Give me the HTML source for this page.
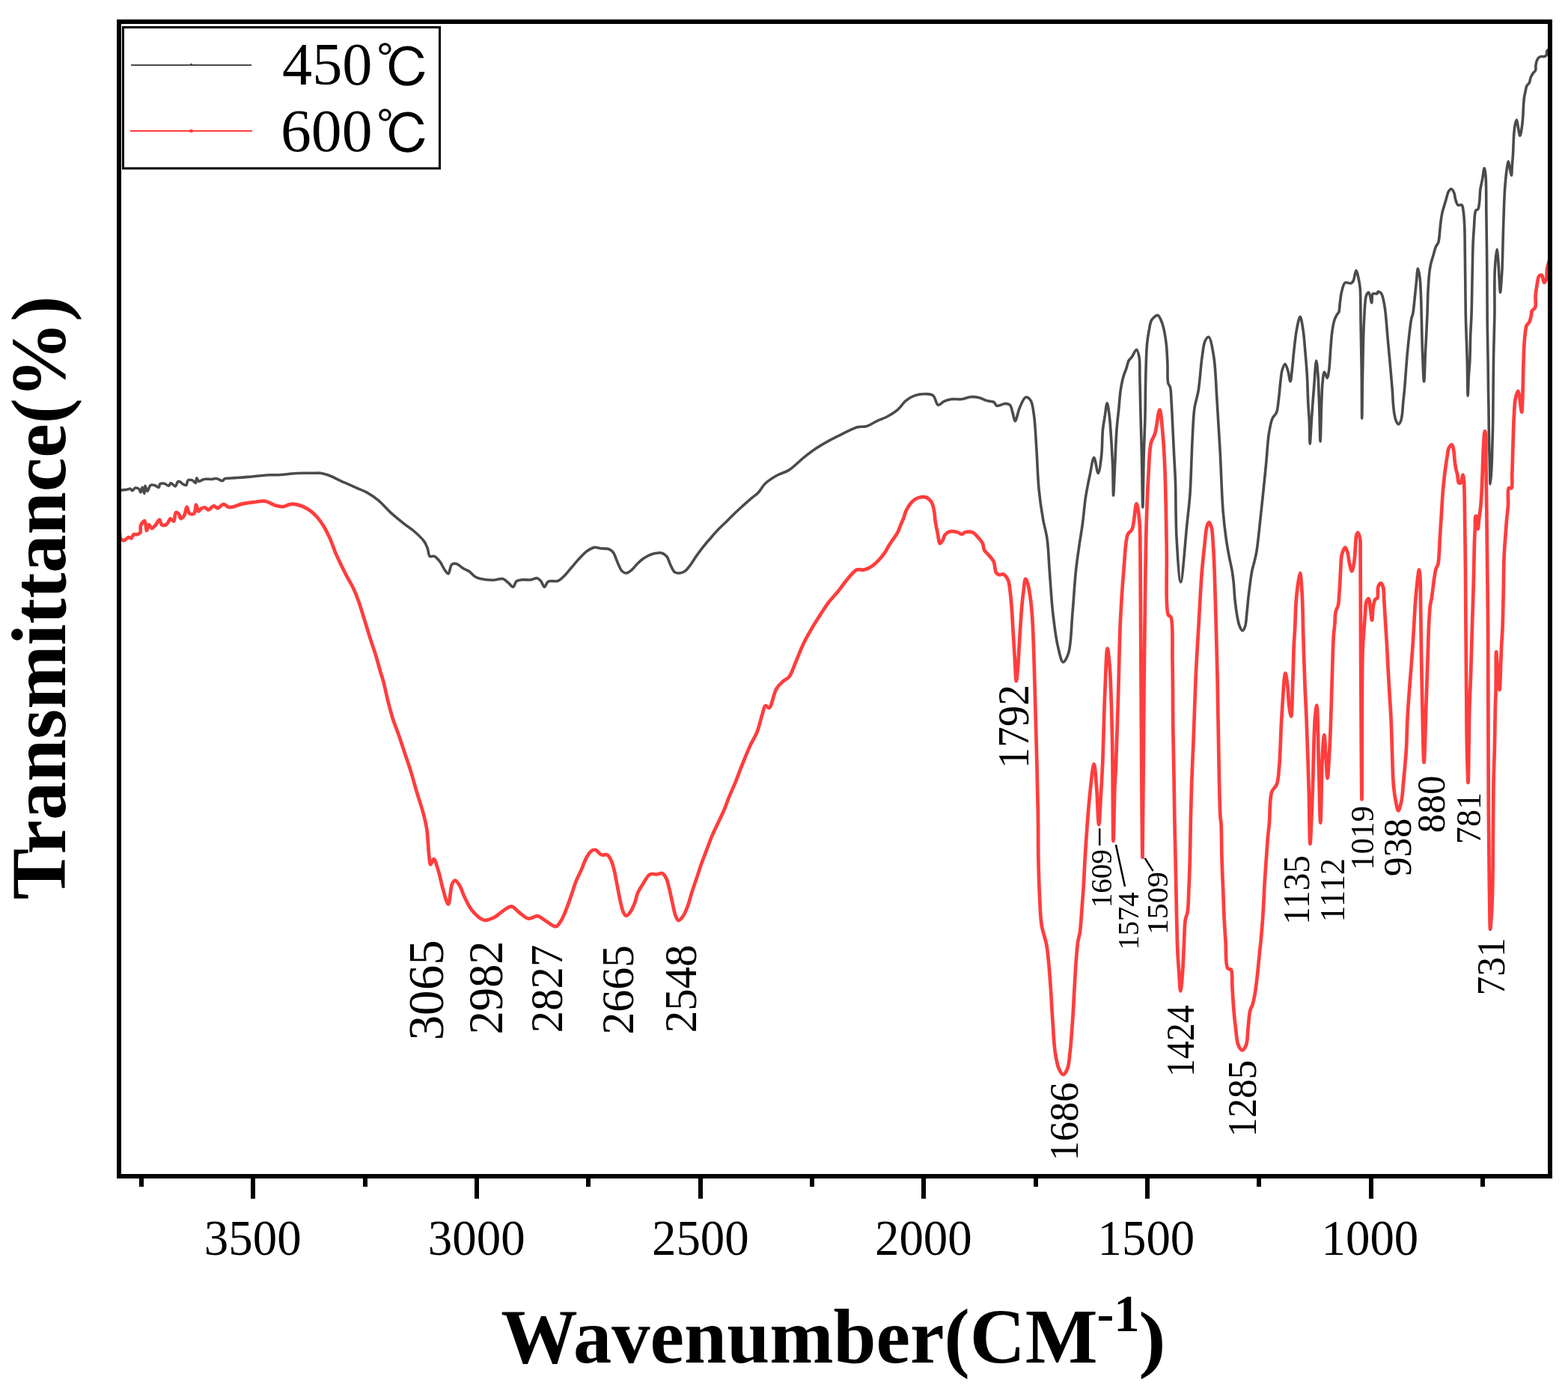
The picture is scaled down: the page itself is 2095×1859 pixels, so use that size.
<!DOCTYPE html>
<html><head><meta charset="utf-8"><title>FTIR spectra 450℃ / 600℃</title>
<style>html,body{margin:0;padding:0;background:#fff;} svg{display:block;}</style></head>
<body><svg width="2095" height="1859" viewBox="0 0 2095 1859">
<rect x="0" y="0" width="2095" height="1859" fill="#ffffff"/>
<path fill="none" stroke="#4b4b4b" stroke-width="3.6" stroke-linejoin="round" stroke-linecap="round" d="M160.0,662.0C160.2,660.0 159.8,657.1 160.5,656.0C160.9,655.4 161.5,655.3 162.3,655.1C163.9,654.6 167.6,654.7 169.7,654.3C171.4,654.0 172.9,652.9 174.1,653.2C175.3,653.5 176.0,655.8 177.0,655.8C178.2,655.8 179.2,652.5 180.7,652.1C182.2,651.7 184.6,652.6 185.8,653.6C187.0,654.6 187.3,658.0 188.0,658.0C188.8,657.9 189.4,651.4 190.2,651.4C191.0,651.4 192.2,659.6 192.8,659.5C193.5,659.4 193.1,649.3 193.9,649.2C194.6,649.1 195.6,656.4 196.8,656.5C198.0,656.6 199.3,649.6 201.2,648.5C202.7,647.6 204.7,648.1 206.4,648.5C208.3,649.0 211.0,651.9 212.2,651.4C213.2,651.0 212.6,647.9 213.7,647.0C214.9,646.0 217.7,646.0 219.6,646.3C221.6,646.6 223.9,649.5 225.4,649.2C226.7,648.9 227.1,645.7 228.4,645.5C229.9,645.3 232.6,650.2 234.2,649.9C235.8,649.6 236.5,643.9 237.9,643.3C238.8,642.9 239.8,643.6 240.8,644.1C242.0,644.7 243.1,646.3 244.5,647.0C245.8,647.7 247.8,649.0 248.9,648.5C250.2,647.8 249.6,643.0 251.1,641.9C252.4,640.9 255.3,641.3 257.0,641.9C258.7,642.5 260.4,645.8 261.4,645.5C262.5,645.1 262.0,639.1 262.8,638.9C263.5,638.8 264.4,642.9 265.8,643.3C267.4,643.8 269.9,640.9 272.4,640.4C275.5,639.7 280.9,640.7 283.4,640.4C284.7,640.2 285.3,639.8 286.3,639.7C287.5,639.6 288.6,639.4 290.0,639.7C292.1,640.1 295.5,643.0 297.3,642.6C298.6,642.3 299.1,640.3 300.3,639.7C301.6,639.1 303.1,639.4 305.0,639.3C308.0,639.1 312.4,638.8 316.5,638.5C321.1,638.2 326.2,637.8 331.1,637.4C336.0,637.0 340.9,636.4 345.8,636.0C350.7,635.6 355.6,635.0 360.5,634.8C365.4,634.6 370.3,634.8 375.2,634.5C380.1,634.2 384.9,633.4 389.8,633.0C394.7,632.6 399.6,632.4 404.5,632.3C409.4,632.2 414.9,632.3 419.2,632.3C422.5,632.3 424.8,631.9 428.0,632.3C432.0,632.8 436.8,634.4 441.2,636.0C445.8,637.7 451.0,640.8 455.0,642.6C458.1,644.0 460.2,644.9 463.2,646.2C466.9,647.8 471.2,649.8 475.5,651.7C480.4,653.9 486.0,655.8 491.0,658.6C496.3,661.6 501.4,665.2 506.4,669.4C511.7,673.9 516.3,679.8 521.8,684.8C527.6,690.1 534.8,695.9 540.4,700.3C544.9,703.8 548.6,706.0 552.7,709.5C557.3,713.5 563.4,719.0 566.6,723.4C568.9,726.6 569.9,729.4 571.2,732.7C572.5,736.1 572.3,742.0 574.3,743.5C575.8,744.6 578.5,742.7 580.5,743.5C583.2,744.6 585.9,748.2 588.2,751.2C590.6,754.4 592.3,759.2 594.4,762.0C595.9,764.0 597.6,767.0 599.0,766.7C600.9,766.3 601.3,756.2 603.7,754.3C605.3,753.0 607.7,753.0 609.8,753.5C612.7,754.2 616.1,757.9 619.1,759.7C621.7,761.2 624.3,761.9 626.8,763.6C629.5,765.4 631.8,768.8 634.5,770.5C637.0,772.0 639.1,772.8 642.3,773.6C646.8,774.7 654.0,775.3 659.2,775.2C663.7,775.1 668.1,772.7 671.6,773.6C674.6,774.3 676.9,777.1 679.3,779.0C681.5,780.7 683.7,784.7 685.5,784.4C687.4,784.1 688.0,778.3 690.1,776.7C692.0,775.3 694.6,775.2 697.3,774.9C700.7,774.5 705.5,775.3 709.1,774.9C712.3,774.5 715.5,772.1 717.9,772.7C720.0,773.2 721.5,775.3 723.0,777.1C724.7,779.1 725.8,784.3 727.4,784.4C729.0,784.5 730.0,778.5 732.6,777.1C735.7,775.4 742.2,777.7 745.8,776.3C748.8,775.1 750.6,772.9 753.1,770.5C756.4,767.4 760.1,762.5 763.4,758.7C766.5,755.2 769.0,751.9 772.2,748.4C775.8,744.6 779.9,739.6 783.9,736.7C787.3,734.3 790.8,732.1 794.2,731.6C797.2,731.1 799.9,732.6 803.0,733.0C806.3,733.4 810.5,732.7 813.3,733.8C815.7,734.7 817.5,736.0 819.2,738.2C821.6,741.2 823.0,747.2 825.0,751.4C826.9,755.4 828.5,760.7 830.9,763.1C832.6,764.8 834.8,766.1 836.8,766.0C839.1,765.9 841.8,763.5 844.1,761.6C846.7,759.5 849.0,756.1 851.5,753.6C853.9,751.2 856.3,748.9 858.8,747.0C861.2,745.3 863.5,743.8 866.1,742.6C868.8,741.3 871.9,740.2 874.9,739.6C877.8,739.0 881.0,738.2 883.7,738.9C886.4,739.6 889.2,741.7 891.1,744.0C893.2,746.6 893.8,750.9 895.5,754.3C897.2,757.8 899.0,762.8 901.4,764.6C903.1,765.9 905.2,766.1 907.2,766.0C909.5,765.9 912.3,765.2 914.6,763.8C917.3,762.1 919.5,758.9 921.9,755.8C924.8,752.0 927.7,746.8 930.7,742.6C933.6,738.5 936.5,734.6 939.5,730.8C942.4,727.2 945.2,724.0 948.3,720.5C951.6,716.7 954.9,712.7 958.6,708.8C962.6,704.5 967.5,700.1 971.7,695.9C975.7,691.9 979.0,688.4 983.5,684.2C989.2,678.9 997.7,671.3 1003.1,666.6C1006.9,663.4 1009.7,661.9 1012.8,658.7C1016.3,655.1 1018.6,649.8 1022.6,646.0C1027.0,641.9 1032.9,638.2 1038.3,635.2C1043.4,632.4 1048.6,631.7 1053.9,628.4C1060.4,624.4 1067.3,616.8 1073.5,611.8C1079.0,607.4 1083.6,603.8 1089.2,600.0C1095.2,595.9 1102.3,591.8 1108.7,588.3C1114.7,585.0 1120.2,582.4 1126.3,579.5C1132.6,576.5 1140.1,572.2 1145.9,570.7C1150.2,569.6 1153.6,570.8 1157.6,569.7C1162.1,568.4 1166.8,564.9 1171.4,562.8C1175.9,560.7 1180.6,559.4 1185.0,557.0C1189.7,554.5 1194.5,551.7 1198.7,548.2C1203.0,544.6 1206.3,538.8 1210.5,535.4C1214.2,532.4 1217.8,530.1 1222.2,528.6C1226.9,527.0 1233.4,526.4 1237.9,526.6C1241.3,526.8 1244.3,526.7 1246.7,528.6C1249.8,530.9 1250.7,540.5 1253.5,541.3C1255.8,541.9 1258.5,537.7 1261.4,536.4C1264.4,535.1 1267.6,534.0 1271.2,533.5C1275.3,532.9 1280.5,534.0 1284.9,533.5C1289.0,533.0 1292.7,530.8 1296.6,530.5C1300.5,530.2 1304.6,530.6 1308.3,531.5C1311.8,532.3 1314.8,534.4 1318.1,535.4C1321.3,536.4 1325.5,536.0 1327.9,537.4C1329.8,538.5 1329.9,541.6 1331.8,542.3C1334.5,543.2 1340.4,539.3 1343.6,539.4C1345.9,539.5 1347.9,539.8 1349.4,541.3C1351.6,543.5 1352.2,549.3 1353.4,553.1C1354.5,556.5 1355.1,562.8 1356.3,562.8C1358.0,562.8 1360.1,549.7 1362.7,544.1C1364.9,539.2 1367.5,531.6 1370.4,530.9C1372.5,530.4 1375.4,532.8 1377.1,535.3C1379.8,539.3 1380.3,547.1 1381.5,555.1C1383.2,566.8 1383.8,583.7 1384.8,599.2C1386.0,616.5 1386.4,637.5 1388.1,654.3C1389.5,668.6 1391.5,682.1 1393.6,694.0C1395.3,703.7 1397.7,710.4 1399.1,720.4C1400.9,733.2 1401.2,749.0 1402.4,764.5C1403.7,781.8 1404.8,802.3 1406.8,819.6C1408.6,835.2 1410.5,851.7 1413.4,863.7C1415.4,872.2 1417.8,884.7 1420.5,885.0C1422.6,885.2 1425.7,878.6 1427.6,872.8C1431.3,861.3 1431.4,836.1 1433.1,817.7C1434.7,799.3 1435.8,778.6 1437.5,762.6C1438.8,750.1 1440.4,740.1 1441.9,729.5C1443.3,719.6 1444.9,711.0 1446.3,700.8C1447.9,689.1 1448.9,674.9 1450.7,663.3C1452.3,653.1 1454.3,643.7 1456.2,634.7C1458.0,626.5 1459.8,611.5 1461.7,611.5C1463.5,611.5 1465.7,632.6 1467.3,632.5C1469.0,632.4 1470.7,617.0 1471.7,608.2C1472.9,597.8 1472.5,583.5 1473.5,574.0C1474.2,567.1 1475.2,562.2 1476.2,556.3C1477.1,550.4 1478.2,538.7 1479.2,538.7C1480.2,538.7 1481.4,549.4 1482.3,556.3C1483.5,566.0 1484.2,579.8 1485.0,591.6C1485.7,603.4 1486.4,615.1 1486.8,626.9C1487.2,638.6 1487.2,662.1 1487.6,662.1C1488.0,662.1 1488.8,639.8 1489.4,626.9C1490.2,611.1 1490.9,588.6 1492.0,574.0C1492.8,563.6 1493.8,556.3 1494.7,547.5C1495.6,538.7 1496.1,529.0 1497.3,521.1C1498.3,514.6 1499.4,508.7 1500.9,503.4C1502.2,498.9 1504.1,494.9 1505.3,491.1C1506.3,487.9 1506.6,484.8 1507.9,482.3C1509.0,480.2 1510.8,479.1 1512.3,477.0C1514.3,474.3 1516.9,467.1 1518.5,467.3C1520.1,467.5 1521.2,472.9 1522.0,477.0C1523.3,483.6 1522.6,493.5 1522.9,503.4C1523.2,516.2 1523.4,531.6 1523.8,547.5C1524.3,566.3 1525.0,588.1 1525.5,609.2C1526.0,631.5 1526.4,678.0 1526.8,678.0C1527.3,678.0 1527.6,630.6 1528.2,609.2C1528.7,590.4 1529.6,573.9 1530.0,556.3C1530.4,538.7 1530.3,520.2 1530.8,503.4C1531.2,488.1 1531.5,470.8 1532.6,459.4C1533.3,452.2 1534.1,447.2 1535.2,441.7C1536.2,436.7 1536.5,431.1 1538.8,427.6C1540.7,424.7 1544.6,421.1 1546.7,421.4C1548.6,421.7 1549.9,425.1 1551.1,427.6C1552.6,430.6 1553.6,434.0 1554.6,438.2C1556.0,444.0 1557.3,451.9 1558.2,459.4C1559.2,467.7 1559.5,477.0 1559.9,485.8C1560.3,494.6 1559.4,507.0 1560.8,512.3C1561.5,514.8 1562.8,515.1 1563.5,517.5C1564.8,522.1 1564.7,530.7 1565.2,538.7C1565.9,549.0 1566.4,562.2 1567.0,574.0C1567.6,585.7 1568.1,597.5 1568.7,609.2C1569.3,621.0 1570.0,630.6 1570.5,644.5C1571.2,664.6 1570.7,695.2 1572.0,718.5C1573.2,739.4 1575.4,778.0 1577.5,778.0C1579.9,778.0 1583.7,721.7 1586.0,700.0C1587.6,684.5 1588.9,675.2 1590.0,660.0C1591.4,639.9 1591.9,610.8 1593.0,590.0C1593.9,573.3 1594.2,557.3 1596.0,545.0C1597.3,536.3 1599.5,531.7 1601.0,523.0C1603.1,510.7 1604.2,490.3 1606.0,478.0C1607.3,469.3 1607.8,460.8 1610.0,456.0C1611.3,453.2 1613.3,450.0 1614.8,450.3C1617.6,450.9 1620.0,466.0 1621.7,476.4C1624.2,491.3 1624.5,512.2 1625.8,531.6C1627.3,553.3 1628.7,576.4 1630.0,600.4C1631.5,626.7 1632.3,661.0 1634.1,683.1C1635.3,697.9 1636.6,708.6 1638.2,720.0C1639.6,729.9 1641.5,740.0 1643.0,747.7C1644.1,753.2 1645.1,756.8 1646.0,761.8C1646.9,767.3 1647.7,773.2 1648.3,779.4C1649.0,786.3 1649.2,794.3 1650.0,801.5C1650.7,808.4 1651.6,815.6 1652.7,821.8C1653.7,827.2 1654.6,833.0 1656.2,836.8C1657.3,839.4 1658.9,843.0 1660.2,843.0C1661.4,843.0 1662.8,839.5 1663.7,836.8C1665.1,832.5 1665.2,825.4 1665.9,819.2C1666.7,812.3 1667.3,804.1 1668.1,797.1C1668.8,790.9 1669.5,785.3 1670.3,779.4C1671.1,773.5 1671.9,767.2 1673.0,761.8C1674.0,757.0 1675.5,752.9 1676.5,748.5C1677.5,744.1 1678.3,741.2 1679.2,735.3C1681.0,723.7 1683.1,701.3 1685.1,683.1C1687.3,663.1 1689.8,638.8 1691.6,620.0C1693.1,604.9 1693.6,590.4 1695.4,579.2C1696.7,571.3 1697.9,564.1 1700.1,559.1C1701.6,555.7 1704.2,554.7 1705.5,551.4C1707.4,546.7 1707.6,539.4 1708.5,532.9C1709.5,525.6 1710.0,516.7 1710.9,509.8C1711.6,504.1 1711.9,498.5 1713.2,494.3C1714.2,491.2 1715.8,486.6 1717.0,486.6C1718.3,486.6 1719.8,492.4 1720.9,495.9C1722.2,500.0 1723.1,509.8 1724.0,509.8C1724.9,509.8 1725.6,500.0 1726.3,494.3C1727.2,487.4 1727.7,479.5 1728.6,471.2C1729.7,461.6 1730.8,449.0 1732.5,440.3C1733.8,433.7 1735.7,423.3 1737.1,423.3C1738.5,423.3 1739.9,433.8 1741.0,440.3C1742.4,449.0 1743.1,460.9 1744.0,471.2C1744.9,481.5 1745.8,491.1 1746.4,502.0C1747.1,514.1 1747.3,529.4 1747.9,540.6C1748.4,549.3 1749.0,555.6 1749.4,563.8C1749.8,573.0 1749.7,593.1 1750.2,593.1C1750.7,593.1 1751.7,571.0 1752.5,559.1C1753.4,545.9 1754.5,530.8 1755.6,517.5C1756.6,505.2 1757.7,482.0 1758.7,482.0C1759.5,482.0 1760.4,494.2 1761.0,502.0C1761.8,512.8 1762.1,526.9 1762.6,540.6C1763.2,556.1 1763.6,590.0 1764.1,590.0C1764.6,590.0 1765.0,555.1 1765.6,540.6C1766.1,529.1 1766.3,517.7 1767.2,509.8C1767.8,504.7 1768.3,497.6 1769.5,497.4C1770.5,497.3 1772.4,505.2 1773.4,505.1C1774.5,505.0 1775.0,498.8 1775.7,494.3C1776.8,486.7 1777.2,473.0 1778.0,463.5C1778.7,455.2 1779.2,447.0 1780.3,440.3C1781.1,435.0 1782.1,430.0 1783.4,426.4C1784.3,423.9 1785.5,421.9 1786.5,420.2C1787.3,419.0 1788.2,418.7 1788.8,417.2C1789.9,414.6 1789.7,409.2 1790.3,404.8C1791.0,399.9 1791.4,394.1 1792.7,389.4C1793.8,385.2 1794.8,379.3 1797.3,377.8C1799.3,376.6 1803.1,379.3 1805.0,378.6C1806.4,378.1 1807.2,377.1 1808.1,375.5C1809.8,372.6 1810.6,361.6 1811.9,361.6C1813.2,361.6 1814.9,371.1 1815.8,375.5C1816.6,379.3 1816.9,381.4 1817.3,386.3C1818.1,396.3 1817.8,416.1 1818.1,432.6C1818.4,451.7 1818.9,473.5 1819.2,494.3C1819.5,515.6 1819.5,559.1 1819.7,559.1C1820.0,559.1 1820.2,516.3 1820.7,494.3C1821.2,471.6 1821.5,443.4 1822.7,424.9C1823.5,412.5 1823.5,398.8 1825.8,394.0C1826.7,392.2 1828.0,390.7 1828.9,390.9C1830.6,391.3 1831.9,404.9 1832.8,404.8C1833.6,404.7 1832.4,394.2 1834.3,392.5C1835.6,391.4 1839.0,393.2 1840.0,392.5C1840.7,392.0 1840.3,390.3 1840.9,390.0C1841.8,389.6 1844.1,390.4 1845.3,391.8C1847.6,394.4 1848.5,400.9 1849.7,407.6C1851.8,418.6 1852.6,435.4 1854.1,451.8C1856.0,472.3 1859.1,505.2 1860.3,521.0C1860.9,529.2 1860.9,533.8 1861.4,539.6C1861.9,544.7 1862.3,549.8 1863.1,554.0C1863.7,557.4 1864.4,560.7 1865.5,563.0C1866.3,564.7 1867.5,567.0 1868.5,567.0C1869.5,567.0 1870.7,564.7 1871.5,563.0C1872.5,560.7 1872.9,557.4 1873.4,554.0C1874.0,549.8 1874.1,544.7 1874.6,539.6C1875.1,533.8 1875.8,528.8 1876.5,521.0C1877.7,508.1 1879.0,485.9 1880.6,469.4C1882.1,454.1 1884.3,432.8 1885.9,425.3C1886.5,422.6 1887.1,422.4 1887.6,420.0C1888.7,415.1 1889.5,404.9 1890.3,397.5C1891.1,390.4 1891.7,383.3 1892.4,376.6C1893.1,370.4 1893.6,358.8 1894.5,358.8C1895.2,358.8 1896.4,366.4 1897.1,371.4C1898.0,378.5 1898.2,389.1 1898.6,397.5C1898.9,405.3 1899.0,411.0 1899.2,420.0C1899.6,433.4 1899.9,454.3 1900.5,470.0C1901.1,484.1 1901.9,510.0 1902.6,510.0C1903.3,510.0 1903.8,484.1 1904.5,470.0C1905.3,454.3 1906.4,434.9 1907.0,420.0C1907.5,407.9 1907.5,397.4 1908.1,387.1C1908.6,377.9 1909.3,367.6 1910.2,360.9C1910.8,356.6 1911.4,353.9 1912.3,350.4C1913.2,346.9 1914.4,343.4 1915.4,339.9C1916.4,336.4 1917.3,332.3 1918.5,329.5C1919.4,327.4 1920.9,326.5 1921.7,324.2C1923.0,320.4 1923.3,313.2 1923.8,308.5C1924.2,304.7 1924.3,301.8 1924.8,298.1C1925.3,293.9 1926.1,288.3 1926.9,284.5C1927.5,281.6 1928.2,279.8 1929.0,277.1C1929.9,273.9 1931.0,270.1 1932.1,266.6C1933.1,263.1 1933.8,258.7 1935.3,256.2C1936.3,254.5 1937.8,252.4 1939.0,252.5C1940.3,252.6 1941.7,255.2 1942.6,257.2C1943.8,259.7 1943.8,263.7 1944.7,266.6C1945.6,269.3 1946.2,272.9 1947.9,274.0C1949.2,274.9 1951.9,273.1 1953.1,274.0C1954.7,275.2 1954.6,278.9 1955.2,282.4C1956.1,287.8 1956.4,295.6 1956.8,303.3C1957.2,312.7 1957.1,323.5 1957.3,334.7C1957.5,347.7 1957.6,362.5 1957.8,376.6C1958.0,390.9 1958.0,404.2 1958.3,420.0C1958.7,439.2 1959.8,464.1 1960.3,483.5C1960.7,499.9 1960.8,529.0 1961.2,529.0C1961.5,529.0 1962.0,508.3 1962.5,500.0C1962.9,493.7 1963.5,490.0 1963.8,483.5C1964.3,473.9 1964.3,459.1 1964.7,448.2C1965.1,438.8 1965.6,432.4 1966.0,421.8C1966.6,405.5 1966.9,377.9 1967.3,360.0C1967.6,346.2 1967.7,334.1 1968.2,323.5C1968.6,315.2 1969.2,307.8 1969.6,301.4C1969.9,296.4 1969.9,291.9 1970.4,288.2C1970.8,285.5 1970.8,282.7 1971.8,281.2C1972.5,280.2 1974.0,280.5 1974.8,279.4C1976.0,277.7 1976.1,274.1 1976.6,270.6C1977.3,265.7 1977.1,258.3 1977.9,252.9C1978.6,248.2 1979.7,244.2 1980.6,239.7C1981.5,234.9 1982.4,224.7 1983.2,224.7C1983.9,224.7 1984.5,230.4 1985.0,235.3C1986.0,246.2 1985.6,269.2 1985.9,288.2C1986.2,310.3 1986.6,336.2 1986.8,360.0C1987.0,383.6 1987.0,408.8 1987.2,430.6C1987.4,449.5 1987.9,467.5 1988.1,483.5C1988.3,496.8 1988.3,508.8 1988.5,520.0C1988.6,529.5 1988.9,537.0 1989.0,546.5C1989.2,557.4 1989.2,570.0 1989.4,581.8C1989.6,593.5 1990.0,605.7 1990.3,617.0C1990.6,627.4 1990.7,647.0 1991.2,647.0C1991.6,647.0 1992.5,633.3 1992.9,625.9C1993.4,617.6 1993.5,608.9 1993.8,599.4C1994.1,588.5 1994.5,576.5 1994.7,564.1C1994.9,550.2 1995.0,534.8 1995.1,520.0C1995.3,505.0 1995.3,490.4 1995.6,474.7C1995.9,457.7 1996.6,440.1 1996.9,421.8C1997.2,402.0 1996.4,376.3 1997.3,360.0C1997.9,349.2 1999.2,333.2 2000.0,333.2C2000.5,333.2 2001.1,340.3 2001.5,345.0C2002.2,352.2 2002.6,363.8 2003.1,372.0C2003.6,378.9 2004.0,391.0 2004.5,391.0C2005.0,391.0 2005.6,380.3 2006.0,375.0C2006.4,369.9 2006.7,366.7 2007.0,360.0C2007.7,346.2 2008.1,316.1 2008.8,297.0C2009.4,281.0 2009.7,265.7 2010.6,252.9C2011.3,243.0 2012.2,233.3 2013.2,226.5C2013.9,222.2 2014.7,215.9 2015.4,215.9C2016.1,215.9 2016.8,222.8 2017.5,226.0C2018.1,228.9 2018.9,234.4 2019.4,234.4C2020.0,234.4 2020.0,226.5 2020.3,222.0C2020.7,216.8 2021.3,209.8 2021.6,205.0C2021.8,201.4 2021.8,199.2 2022.0,195.6C2022.2,190.6 2022.4,183.4 2022.9,177.9C2023.3,173.2 2023.9,167.9 2024.7,164.7C2025.2,162.8 2025.9,160.3 2026.4,160.3C2027.1,160.4 2027.5,165.9 2028.2,169.1C2029.0,172.9 2030.0,181.4 2030.9,181.4C2031.8,181.4 2032.9,173.3 2033.5,169.1C2034.2,164.8 2034.4,160.6 2034.8,155.9C2035.2,150.4 2035.3,143.1 2035.7,138.2C2036.0,134.8 2036.2,132.3 2036.6,129.4C2037.1,126.5 2037.8,123.3 2038.4,120.6C2038.9,118.3 2039.2,116.1 2040.1,114.4C2040.9,113.0 2042.4,112.4 2043.2,110.9C2044.3,108.9 2044.4,105.2 2045.4,102.9C2046.2,100.9 2047.4,99.1 2048.5,97.6C2049.5,96.3 2051.0,95.6 2051.6,94.1C2052.4,92.2 2051.6,89.4 2052.0,87.0C2052.4,84.4 2053.0,81.1 2054.2,79.1C2055.2,77.5 2056.6,76.2 2058.2,75.6C2059.7,75.0 2062.1,76.0 2063.5,75.6C2064.6,75.3 2065.5,74.8 2066.1,73.8C2066.9,72.4 2066.2,68.9 2067.0,67.6C2067.5,66.7 2068.5,66.5 2069.2,65.9"/>
<path fill="none" stroke="#ff3d3d" stroke-width="4.7" stroke-linejoin="round" stroke-linecap="round" d="M160.1,713.6C160.2,715.3 159.7,717.3 160.5,718.7C161.3,720.3 163.5,722.3 165.3,722.4C167.3,722.5 170.0,718.2 171.9,718.0C173.2,717.9 174.5,719.8 175.5,719.4C176.8,719.0 177.1,715.1 178.5,714.3C179.7,713.6 181.5,714.6 182.9,714.3C184.4,713.9 186.4,713.5 187.3,712.1C188.6,710.2 186.9,705.3 188.0,702.6C189.0,700.0 191.9,695.7 193.2,696.0C194.9,696.4 195.0,709.1 196.1,709.2C197.0,709.3 197.8,701.3 199.0,701.1C200.0,701.0 201.3,706.0 202.7,706.2C204.2,706.4 206.2,703.6 207.8,701.8C209.7,699.8 211.6,694.4 213.0,694.5C214.2,694.6 214.4,699.9 215.9,701.1C217.2,702.1 219.5,702.3 221.0,701.8C222.5,701.3 223.6,699.5 224.7,698.1C225.8,696.6 226.4,693.2 227.6,693.0C228.8,692.8 230.9,697.1 232.0,696.7C233.7,696.2 233.3,685.9 235.0,685.0C236.0,684.5 237.6,685.5 238.6,686.4C240.0,687.7 240.3,692.7 241.6,693.0C242.8,693.3 244.8,691.1 246.0,689.3C247.8,686.6 248.3,677.7 249.6,677.6C250.8,677.5 251.4,685.1 253.3,686.4C254.8,687.4 257.8,687.5 259.2,686.4C261.3,684.8 261.1,674.7 262.1,674.7C263.0,674.7 263.6,683.2 265.0,683.5C266.0,683.7 267.2,680.7 268.7,679.8C270.2,678.9 272.3,678.0 273.9,678.3C275.5,678.6 276.7,681.3 278.3,681.3C280.4,681.3 283.4,676.2 285.6,676.1C287.4,676.0 288.8,679.1 290.7,679.1C293.1,679.1 296.3,673.9 298.8,673.9C301.0,673.9 303.1,677.0 305.0,677.6C306.4,678.0 307.3,678.0 309.1,677.8C312.5,677.4 318.9,674.5 323.8,673.4C328.7,672.3 333.5,671.8 338.5,671.2C343.7,670.6 349.6,668.9 354.6,669.7C359.3,670.5 363.6,674.4 367.8,675.6C371.4,676.6 374.8,677.4 378.1,677.1C381.2,676.8 383.9,674.6 386.9,674.1C389.8,673.6 392.4,673.5 395.7,674.1C400.4,675.0 407.2,677.8 411.9,680.7C416.4,683.5 420.0,687.0 423.6,691.0C427.4,695.3 430.9,700.7 433.9,705.7C436.7,710.5 438.9,715.3 441.2,720.4C443.6,725.8 445.4,731.7 447.7,737.3C450.1,743.0 452.8,748.8 455.4,754.3C457.9,759.6 460.4,764.5 463.2,769.8C466.1,775.3 469.8,781.1 472.4,786.7C474.8,791.9 476.8,797.1 478.6,802.2C480.3,806.9 481.6,811.0 483.2,816.1C485.1,822.2 487.3,829.5 489.4,836.2C491.5,842.9 493.5,849.7 495.6,856.2C497.6,862.5 499.8,868.3 501.8,874.7C503.9,881.6 506.0,889.9 507.9,896.4C509.4,901.6 510.7,905.1 512.2,910.6C514.2,918.0 516.3,928.7 518.4,937.1C520.4,944.9 522.2,952.1 524.5,959.5C526.9,967.0 529.9,974.3 532.6,982.0C535.4,990.0 538.1,998.3 540.8,1006.4C543.5,1014.6 546.3,1022.4 548.9,1030.9C551.7,1040.0 554.3,1050.1 557.1,1059.4C559.8,1068.4 563.0,1077.5 565.3,1086.0C567.4,1093.7 569.0,1100.0 570.3,1108.4C571.9,1119.1 572.2,1136.7 573.4,1145.1C574.0,1149.6 574.3,1155.1 575.4,1155.3C576.4,1155.5 578.1,1148.1 579.5,1148.2C581.5,1148.3 583.7,1157.7 585.6,1163.4C587.9,1170.5 589.5,1180.2 591.8,1187.9C593.9,1195.1 596.9,1208.4 598.9,1208.3C601.1,1208.1 601.6,1187.0 604.0,1181.8C605.2,1179.2 606.6,1176.7 608.1,1176.7C609.9,1176.7 612.4,1180.9 614.2,1183.8C616.6,1187.6 617.9,1193.1 620.3,1198.1C623.1,1203.9 626.1,1211.2 630.5,1216.5C634.9,1221.8 641.5,1228.5 646.8,1229.7C651.0,1230.6 655.0,1228.6 659.1,1226.7C663.9,1224.5 668.9,1219.2 673.3,1216.5C676.9,1214.3 680.2,1211.1 683.5,1211.4C687.0,1211.8 690.1,1216.9 693.7,1219.5C697.6,1222.3 701.8,1227.0 706.0,1227.7C709.9,1228.3 714.6,1223.8 718.2,1224.2C721.3,1224.5 723.3,1226.9 726.3,1228.7C730.4,1231.2 737.4,1237.0 740.6,1237.9C742.0,1238.3 742.7,1238.4 743.8,1237.8C745.8,1236.8 748.2,1232.8 750.2,1229.5C752.6,1225.6 754.5,1220.5 756.5,1215.5C758.7,1210.0 760.8,1203.7 762.9,1197.7C765.1,1191.5 766.9,1184.7 769.3,1178.6C771.6,1172.8 774.5,1167.5 776.9,1162.1C779.2,1156.9 780.7,1151.2 783.2,1146.8C785.4,1142.9 788.3,1138.2 790.9,1136.7C792.6,1135.7 794.2,1135.5 796.0,1136.0C798.4,1136.7 800.9,1141.4 803.6,1142.4C806.0,1143.3 809.1,1141.3 811.2,1142.4C813.4,1143.5 814.9,1146.7 816.3,1149.4C818.0,1152.6 818.9,1156.5 820.1,1160.8C821.6,1166.3 822.6,1173.1 824.0,1179.9C825.6,1187.8 827.3,1198.2 829.0,1205.4C830.3,1210.8 831.2,1216.1 832.9,1219.3C834.0,1221.4 835.3,1223.7 836.7,1223.8C838.2,1223.9 840.2,1221.4 841.8,1219.3C844.1,1216.3 846.4,1210.9 848.1,1206.6C849.7,1202.4 850.2,1197.9 851.9,1193.9C853.6,1189.9 855.8,1186.4 858.3,1182.5C861.2,1178.0 864.7,1170.4 868.5,1168.5C871.2,1167.1 874.6,1168.7 877.4,1168.5C880.0,1168.3 882.9,1166.4 885.0,1167.2C887.2,1168.0 888.7,1170.9 890.1,1173.6C891.9,1177.0 892.6,1181.4 893.9,1186.3C895.6,1192.8 897.4,1202.4 899.0,1209.2C900.3,1214.8 901.2,1220.6 902.8,1224.4C903.9,1226.9 905.1,1230.0 906.6,1230.2C908.1,1230.4 910.1,1227.8 911.7,1225.7C914.0,1222.7 916.2,1217.8 918.1,1213.0C920.5,1207.1 922.2,1199.3 924.4,1192.6C926.5,1186.1 928.7,1179.9 930.8,1173.6C932.9,1167.2 934.8,1160.9 937.1,1154.5C939.5,1147.8 942.4,1140.5 944.8,1134.1C947.0,1128.3 948.8,1123.1 951.1,1117.6C953.4,1112.1 956.1,1106.8 958.8,1101.1C961.7,1095.0 965.1,1088.2 967.7,1082.0C970.1,1076.3 971.7,1071.0 974.0,1065.4C976.4,1059.5 979.0,1054.1 981.7,1047.6C984.9,1039.7 988.5,1029.9 991.9,1021.4C995.2,1013.3 998.4,1005.1 1001.8,997.6C1005.0,990.6 1008.9,984.8 1011.7,977.8C1014.6,970.4 1016.6,960.4 1018.7,954.0C1020.1,949.6 1020.8,943.8 1022.7,943.1C1024.0,942.6 1026.0,946.6 1027.6,946.0C1031.1,944.8 1033.7,926.3 1037.5,920.2C1040.0,916.2 1042.6,914.0 1045.5,911.3C1048.3,908.7 1051.8,907.7 1054.4,904.4C1058.0,899.8 1060.3,891.4 1063.3,884.5C1066.6,876.9 1069.6,868.4 1073.3,860.7C1076.9,853.2 1081.3,845.5 1085.2,838.9C1088.6,833.1 1091.6,828.4 1095.1,823.0C1098.8,817.2 1102.9,810.7 1107.0,805.2C1110.8,800.2 1114.8,796.3 1118.9,791.3C1123.4,785.8 1128.2,778.6 1132.8,773.4C1136.8,768.9 1140.5,763.2 1144.7,761.5C1147.9,760.2 1151.2,762.3 1154.6,761.5C1158.5,760.6 1162.5,758.6 1166.5,755.6C1171.7,751.7 1178.6,743.4 1182.1,738.6C1184.4,735.5 1185.0,733.3 1186.8,730.4C1188.8,727.1 1191.5,723.3 1193.7,720.1C1195.6,717.2 1197.6,714.9 1199.2,711.9C1200.9,708.7 1201.9,705.0 1203.3,701.6C1204.6,698.4 1206.2,695.2 1207.4,692.1C1208.5,689.3 1208.9,686.6 1210.1,683.8C1211.5,680.6 1213.4,677.0 1215.6,674.2C1217.6,671.6 1219.9,669.1 1222.5,667.4C1225.0,665.8 1228.0,664.7 1230.7,664.3C1233.2,664.0 1236.0,664.0 1238.2,665.0C1240.6,666.1 1242.8,668.3 1244.4,670.8C1246.2,673.6 1246.9,677.2 1247.8,681.1C1248.9,686.0 1249.0,692.8 1249.9,698.2C1250.7,703.0 1251.6,707.3 1252.6,711.9C1253.6,716.6 1254.4,725.9 1256.0,726.3C1257.0,726.5 1258.5,723.8 1259.5,722.2C1260.7,720.3 1260.8,717.2 1262.2,715.3C1263.7,713.3 1265.9,711.3 1268.4,710.5C1271.4,709.6 1276.3,710.4 1279.3,711.2C1281.5,711.8 1283.0,714.1 1284.8,714.0C1286.5,714.0 1287.6,711.7 1289.6,711.2C1292.3,710.5 1297.0,710.4 1299.9,711.6C1302.7,712.8 1304.6,715.7 1306.7,718.1C1308.9,720.6 1311.5,723.4 1312.9,726.3C1314.2,729.1 1313.8,732.6 1315.1,735.1C1316.3,737.3 1318.1,738.5 1319.9,740.6C1322.2,743.4 1325.7,746.5 1327.5,750.3C1329.6,754.6 1329.0,762.5 1331.0,765.4C1332.1,767.0 1333.6,767.8 1335.1,768.2C1336.7,768.6 1338.9,766.8 1340.6,767.5C1342.9,768.4 1345.3,771.9 1346.8,775.1C1348.7,779.1 1348.8,784.8 1349.6,790.3C1350.5,796.6 1351.0,803.1 1351.6,810.9C1352.4,820.9 1353.0,833.9 1353.7,845.4C1354.4,856.9 1355.1,868.7 1355.8,879.8C1356.5,890.2 1357.0,910.2 1357.8,910.2C1358.4,910.2 1359.3,900.1 1359.9,893.6C1360.8,884.2 1361.2,871.2 1362.0,859.2C1362.8,846.0 1363.7,830.2 1364.7,817.8C1365.5,807.7 1366.4,798.3 1367.5,790.3C1368.3,784.1 1368.9,773.9 1370.2,773.7C1371.0,773.6 1372.2,776.8 1373.0,779.2C1374.4,783.4 1375.4,790.5 1376.4,797.1C1377.6,805.3 1378.4,814.2 1379.2,824.7C1380.2,838.5 1380.6,854.6 1381.3,872.9C1382.2,897.2 1382.9,926.4 1383.7,957.6C1384.7,996.3 1386.3,1052.1 1386.9,1087.6C1387.3,1112.2 1387.0,1130.4 1387.4,1150.0C1387.8,1167.5 1388.3,1184.3 1389.1,1199.6C1389.8,1212.7 1389.9,1224.9 1391.6,1236.0C1393.1,1245.6 1396.6,1253.5 1398.2,1262.5C1399.9,1271.7 1400.6,1280.8 1401.5,1290.6C1402.5,1301.2 1403.2,1312.0 1404.0,1323.7C1404.9,1336.7 1405.5,1351.3 1406.5,1365.1C1407.5,1378.9 1408.0,1395.0 1409.8,1406.5C1411.1,1414.9 1412.3,1422.7 1414.7,1428.0C1416.3,1431.6 1418.6,1436.2 1420.5,1436.2C1422.4,1436.2 1424.8,1431.6 1426.3,1428.0C1428.4,1422.7 1428.6,1414.9 1429.6,1406.5C1431.0,1395.0 1432.0,1378.9 1433.0,1365.1C1434.0,1351.3 1434.6,1337.5 1435.4,1323.7C1436.2,1309.9 1436.9,1294.4 1437.9,1282.4C1438.7,1273.0 1439.3,1264.2 1440.4,1257.5C1441.1,1252.9 1442.2,1250.8 1442.9,1246.0C1444.0,1238.4 1444.6,1226.4 1445.4,1216.2C1446.2,1205.5 1447.1,1194.1 1447.8,1183.1C1448.5,1172.1 1448.7,1163.4 1449.5,1150.0C1450.8,1129.4 1452.9,1094.7 1455.2,1071.4C1457.1,1052.7 1459.9,1021.0 1461.7,1021.0C1463.0,1021.0 1464.0,1038.9 1465.0,1050.0C1466.3,1064.8 1467.1,1102.0 1468.2,1102.0C1469.1,1102.0 1470.2,1073.6 1471.0,1060.0C1471.8,1047.2 1472.4,1038.0 1473.1,1022.6C1474.2,997.7 1475.0,953.4 1476.3,925.0C1477.3,903.0 1478.2,866.5 1479.6,866.5C1480.5,866.5 1481.9,881.0 1482.8,892.5C1484.5,914.6 1485.3,955.0 1486.1,990.1C1487.0,1031.2 1486.8,1124.0 1487.5,1124.0C1488.0,1124.0 1488.7,1068.7 1489.5,1050.0C1490.0,1038.6 1490.5,1034.5 1491.0,1022.6C1492.0,1000.1 1493.2,957.4 1494.2,925.0C1495.2,892.8 1495.6,857.8 1497.0,828.7C1498.2,804.6 1499.6,782.9 1501.4,762.6C1503.0,745.1 1503.2,722.5 1506.9,714.0C1508.4,710.4 1510.9,710.8 1512.5,707.4C1515.7,700.6 1516.7,673.0 1518.5,673.0C1520.0,673.0 1521.5,687.3 1522.4,696.4C1523.6,708.8 1523.2,720.8 1523.5,740.5C1524.1,780.2 1524.1,856.7 1524.6,920.0C1525.1,991.0 1525.9,1146.0 1526.5,1146.0C1527.2,1146.0 1527.8,988.8 1528.5,920.0C1529.1,862.1 1529.8,800.5 1530.5,760.0C1530.9,735.2 1531.1,720.3 1531.7,699.9C1532.4,678.8 1533.2,655.1 1534.4,635.7C1535.4,619.6 1535.4,601.6 1537.9,591.6C1539.3,586.1 1541.6,584.5 1543.2,579.3C1545.7,571.3 1547.7,547.4 1549.4,547.5C1551.2,547.6 1552.7,570.4 1553.8,582.8C1555.1,596.7 1555.7,610.4 1556.4,626.9C1557.3,648.2 1557.8,679.1 1558.2,699.9C1558.5,715.4 1558.5,724.6 1558.8,740.5C1559.3,763.0 1556.8,814.5 1561.0,822.1C1561.9,823.8 1563.4,822.7 1564.3,824.3C1567.8,830.6 1566.0,862.0 1566.5,883.8C1567.1,910.5 1567.0,951.6 1567.3,972.7C1567.5,984.4 1567.6,989.3 1567.8,1000.0C1568.1,1015.3 1568.5,1037.3 1568.8,1056.0C1569.1,1074.8 1569.3,1093.7 1569.7,1112.5C1570.1,1131.3 1570.6,1150.0 1571.0,1168.8C1571.4,1187.5 1571.7,1207.1 1572.1,1225.0C1572.5,1241.3 1572.8,1258.3 1573.4,1271.9C1573.9,1282.5 1574.6,1291.0 1575.3,1300.0C1575.9,1308.4 1576.4,1324.4 1577.2,1324.4C1578.0,1324.4 1579.3,1309.0 1580.0,1300.0C1580.9,1288.9 1581.2,1274.7 1581.9,1262.5C1582.5,1251.0 1582.5,1236.5 1583.8,1228.8C1584.5,1224.6 1585.9,1223.5 1586.6,1219.4C1587.9,1212.0 1587.9,1198.6 1588.4,1187.5C1589.0,1175.5 1589.4,1163.8 1589.8,1150.0C1590.3,1133.2 1590.5,1111.7 1590.9,1093.8C1591.3,1077.5 1591.7,1062.5 1592.2,1046.9C1592.7,1031.3 1593.6,1013.5 1594.1,1000.0C1594.5,989.7 1594.8,984.0 1595.2,972.7C1595.9,954.3 1596.8,924.3 1597.9,899.9C1599.1,875.2 1600.7,849.0 1602.1,825.5C1603.3,804.2 1604.4,782.4 1605.8,764.8C1606.9,751.1 1608.2,739.4 1609.4,728.5C1610.4,719.6 1610.9,709.5 1612.4,704.2C1613.2,701.4 1614.1,698.2 1615.1,698.2C1616.1,698.2 1617.6,701.4 1618.5,704.2C1620.2,709.5 1620.2,719.6 1620.9,728.5C1621.7,739.4 1622.2,751.2 1622.7,764.8C1623.4,782.4 1623.9,804.2 1624.5,825.5C1625.1,849.0 1625.9,876.4 1626.4,899.9C1626.9,921.0 1627.0,936.1 1627.5,960.0C1628.2,995.5 1629.2,1074.6 1630.5,1092.0C1630.8,1096.3 1631.2,1096.2 1631.5,1100.0C1632.1,1108.8 1632.0,1129.4 1632.4,1144.1C1632.8,1158.8 1633.5,1173.5 1634.1,1188.2C1634.7,1202.9 1635.2,1219.5 1635.9,1232.3C1636.4,1242.3 1636.9,1249.3 1637.6,1258.8C1638.4,1269.7 1637.1,1289.7 1640.3,1294.1C1641.5,1295.7 1643.6,1294.4 1644.7,1295.9C1647.2,1299.4 1645.9,1312.2 1646.5,1320.6C1647.1,1329.3 1647.5,1338.2 1648.2,1347.0C1648.9,1355.8 1649.8,1365.0 1650.9,1373.5C1651.9,1381.5 1652.2,1391.2 1654.4,1396.5C1655.8,1399.7 1657.9,1403.5 1659.7,1403.5C1661.5,1403.5 1663.7,1399.7 1665.0,1396.5C1667.1,1391.2 1666.7,1381.2 1667.6,1373.5C1668.5,1365.9 1668.8,1356.4 1670.3,1350.6C1671.2,1346.9 1672.8,1345.0 1673.8,1341.8C1674.9,1338.1 1675.6,1334.3 1676.5,1329.4C1677.7,1322.2 1679.0,1311.7 1680.0,1302.9C1681.0,1294.1 1681.7,1285.3 1682.6,1276.5C1683.5,1267.7 1684.5,1259.5 1685.3,1250.0C1686.3,1239.1 1687.2,1226.5 1687.9,1214.7C1688.6,1202.9 1689.1,1190.3 1689.7,1179.4C1690.3,1169.9 1690.8,1162.4 1691.5,1152.9C1692.3,1142.0 1693.2,1127.3 1694.1,1117.6C1694.7,1110.7 1695.3,1107.1 1695.9,1100.0C1696.9,1089.1 1696.1,1067.2 1699.2,1058.3C1700.8,1053.6 1704.2,1052.6 1705.8,1048.4C1708.1,1042.5 1708.2,1035.0 1709.1,1025.3C1710.7,1009.0 1711.0,980.6 1712.4,959.2C1713.8,938.8 1715.6,899.8 1717.4,899.7C1718.3,899.7 1719.5,910.0 1720.3,916.2C1721.3,923.9 1721.3,935.1 1722.3,942.6C1723.0,948.3 1724.3,957.5 1725.0,957.5C1726.3,957.4 1726.7,925.7 1727.3,909.6C1728.0,893.2 1728.3,873.0 1728.9,860.0C1729.3,851.5 1729.8,847.2 1730.2,839.1C1730.8,828.1 1730.8,812.6 1732.0,800.0C1733.1,788.2 1735.6,765.8 1736.9,765.8C1738.0,765.8 1738.8,780.1 1739.5,790.0C1740.6,805.5 1740.7,829.6 1741.3,850.1C1742.0,871.6 1742.7,896.5 1743.5,916.2C1744.1,932.1 1744.8,941.9 1745.5,959.2C1746.5,985.4 1748.0,1028.2 1748.8,1058.3C1749.5,1083.5 1749.6,1127.8 1750.4,1127.8C1751.2,1127.8 1752.7,1083.5 1753.7,1058.3C1754.9,1028.2 1755.4,978.4 1757.0,959.2C1757.7,951.3 1758.6,942.6 1759.3,942.6C1760.8,942.7 1761.1,998.5 1762.0,1025.3C1762.8,1050.8 1763.5,1099.7 1764.3,1099.7C1765.2,1099.7 1765.6,1030.0 1766.9,1008.8C1767.6,997.3 1768.5,982.3 1769.3,982.3C1770.2,982.3 1771.1,1008.2 1771.9,1018.7C1772.5,1026.8 1773.0,1040.2 1773.6,1040.2C1774.5,1040.2 1775.9,1011.1 1776.9,992.2C1778.3,965.1 1779.5,914.6 1780.2,893.1C1780.5,882.7 1780.6,877.5 1780.9,870.0C1781.2,862.8 1781.4,855.2 1781.9,848.7C1782.3,843.3 1783.0,838.8 1783.4,833.8C1783.8,828.9 1783.7,822.6 1784.4,819.0C1784.8,816.9 1785.3,815.7 1785.9,814.0C1786.5,812.3 1787.4,811.2 1787.9,809.0C1788.8,805.4 1788.9,799.1 1789.3,794.2C1789.7,789.2 1790.0,784.6 1790.3,779.3C1790.7,773.1 1790.9,765.8 1791.3,759.4C1791.7,753.3 1791.5,746.6 1792.8,741.6C1793.8,737.7 1795.9,731.7 1797.3,731.7C1798.4,731.7 1799.5,735.1 1800.3,737.6C1801.5,741.2 1801.7,747.1 1802.7,751.5C1803.7,755.6 1805.1,763.4 1806.2,763.4C1807.3,763.4 1808.5,755.8 1809.2,751.5C1810.1,746.4 1810.2,740.4 1810.7,734.6C1811.2,728.5 1811.2,719.7 1812.2,715.8C1812.7,713.9 1813.4,711.8 1814.1,711.8C1815.0,711.8 1816.5,716.5 1817.1,719.8C1818.1,724.9 1817.5,730.1 1817.6,739.6C1818.0,764.0 1817.8,822.0 1818.1,870.0C1818.4,929.2 1819.1,1068.5 1819.5,1068.5C1819.9,1068.5 1819.3,907.6 1820.6,870.0C1821.1,855.1 1822.0,848.0 1822.6,838.8C1823.1,831.5 1823.6,825.1 1824.1,819.0C1824.6,813.7 1824.3,807.4 1825.6,804.1C1826.3,802.2 1827.7,799.9 1828.5,800.1C1829.8,800.4 1830.3,809.3 1831.0,814.0C1831.8,818.9 1832.4,828.9 1833.0,828.9C1833.7,828.9 1834.0,814.1 1835.0,809.0C1835.7,805.7 1836.3,802.8 1837.5,801.1C1838.3,800.0 1839.7,800.3 1840.4,799.1C1841.8,796.6 1840.1,787.7 1841.4,784.2C1842.2,782.0 1843.8,779.3 1844.9,779.3C1846.0,779.3 1847.2,781.9 1847.9,784.2C1849.3,788.5 1848.9,797.1 1849.4,804.1C1849.9,811.9 1850.4,820.3 1850.9,828.9C1851.5,838.4 1852.1,847.4 1852.8,858.7C1853.7,873.5 1854.5,893.0 1855.5,910.0C1856.4,926.8 1857.8,944.3 1858.5,960.0C1859.2,974.1 1859.4,986.1 1859.9,1000.0C1860.5,1015.0 1860.6,1034.0 1861.7,1047.0C1862.5,1056.2 1863.5,1063.9 1864.8,1070.5C1865.8,1075.5 1867.0,1083.5 1868.3,1083.5C1869.6,1083.5 1871.4,1075.5 1872.5,1070.5C1873.9,1063.9 1874.1,1056.2 1875.0,1047.0C1876.2,1034.0 1878.1,1015.0 1879.0,1000.0C1879.8,986.1 1879.7,974.1 1880.5,960.0C1881.3,944.3 1882.8,925.7 1884.0,910.0C1885.0,895.9 1886.2,882.5 1887.1,870.0C1887.9,859.0 1888.3,849.8 1889.0,838.8C1889.8,826.4 1890.5,810.8 1891.5,799.1C1892.3,789.9 1893.1,781.2 1894.0,774.3C1894.6,769.3 1895.4,761.4 1896.0,761.4C1896.6,761.4 1897.2,769.3 1897.5,774.3C1898.0,781.2 1897.8,788.7 1898.0,799.1C1898.3,816.7 1898.6,846.4 1899.0,870.0C1899.4,893.4 1899.7,916.0 1900.3,940.0C1900.9,965.5 1901.7,1019.0 1902.6,1019.0C1903.5,1019.0 1904.6,965.5 1905.5,940.0C1906.4,916.0 1907.3,888.7 1907.9,870.0C1908.3,857.5 1908.4,849.1 1908.9,838.8C1909.4,828.7 1909.9,816.2 1910.9,809.0C1911.5,804.8 1912.3,802.7 1912.9,799.1C1913.6,794.7 1914.1,789.2 1914.8,784.2C1915.4,779.3 1916.1,773.8 1916.8,769.4C1917.4,765.7 1917.9,762.1 1918.8,759.4C1919.5,757.4 1920.7,756.7 1921.3,754.5C1922.3,750.9 1922.4,744.9 1922.8,739.6C1923.3,733.5 1923.4,726.4 1923.8,719.8C1924.2,713.2 1924.7,706.8 1925.1,700.0C1925.6,692.7 1926.0,684.9 1926.5,677.5C1927.0,670.3 1927.3,662.8 1927.9,656.0C1928.4,649.8 1929.1,643.7 1929.7,638.1C1930.3,633.1 1930.8,628.6 1931.5,623.8C1932.2,619.0 1932.9,613.8 1933.7,609.4C1934.4,605.6 1934.4,601.3 1935.8,598.7C1936.8,596.7 1939.0,594.1 1940.1,594.4C1941.3,594.7 1941.7,599.3 1942.3,602.3C1943.1,606.3 1943.2,612.4 1943.7,616.6C1944.1,620.0 1944.5,622.9 1945.1,625.9C1945.7,628.8 1946.7,631.5 1947.3,634.5C1948.0,637.9 1947.7,644.1 1949.1,645.3C1949.8,645.9 1950.9,645.8 1951.6,645.3C1953.1,644.1 1953.8,634.5 1954.5,634.5C1955.1,634.5 1955.6,639.7 1955.9,643.0C1956.4,647.7 1956.4,653.1 1956.6,660.0C1956.9,670.5 1957.0,685.3 1957.2,700.0C1957.5,718.0 1957.8,738.6 1958.0,760.0C1958.2,784.8 1958.3,813.3 1958.5,840.0C1958.7,866.7 1959.0,893.3 1959.2,920.0C1959.5,946.7 1959.5,977.0 1960.0,1000.0C1960.4,1017.4 1961.2,1046.0 1961.6,1046.0C1962.0,1046.0 1962.2,1016.0 1962.5,1000.0C1962.8,982.7 1962.9,963.0 1963.4,945.9C1963.8,930.4 1964.6,917.7 1965.1,901.8C1965.7,882.9 1966.3,861.4 1966.9,840.0C1967.6,817.0 1968.6,789.2 1969.1,768.2C1969.5,751.7 1969.6,735.8 1970.0,724.1C1970.3,716.4 1970.6,711.0 1970.9,705.0C1971.1,699.7 1970.4,691.0 1971.5,690.0C1971.8,689.7 1972.2,689.7 1972.5,690.0C1973.7,691.1 1973.9,707.0 1974.6,707.0C1975.3,707.0 1975.9,694.9 1976.5,690.0C1977.0,686.2 1977.6,683.9 1978.0,680.0C1978.6,674.5 1979.1,667.1 1979.5,660.0C1980.0,652.1 1980.2,643.8 1980.6,634.7C1981.0,623.9 1981.4,609.4 1981.9,599.4C1982.3,592.0 1982.7,584.0 1983.2,580.0C1983.4,578.2 1983.7,576.0 1984.0,576.0C1984.3,576.0 1984.7,578.0 1985.0,580.0C1985.8,586.1 1985.2,603.0 1985.4,617.0C1985.6,635.2 1986.0,657.7 1986.3,680.0C1986.6,705.1 1986.9,733.3 1987.2,760.0C1987.5,786.7 1987.9,808.8 1988.1,840.0C1988.4,884.2 1988.3,954.3 1988.5,1000.0C1988.6,1034.3 1988.7,1066.8 1988.9,1090.0C1989.0,1104.7 1989.2,1114.2 1989.3,1126.0C1989.4,1137.5 1989.5,1147.6 1989.6,1160.0C1989.8,1175.1 1990.0,1195.2 1990.3,1210.0C1990.5,1221.9 1990.6,1242.0 1991.1,1242.0C1991.5,1242.0 1992.2,1231.5 1992.6,1225.0C1993.2,1216.4 1993.7,1205.4 1994.0,1195.0C1994.4,1183.8 1994.4,1173.7 1994.6,1160.0C1994.8,1140.3 1994.9,1109.1 1995.1,1088.0C1995.3,1071.5 1995.3,1058.7 1995.6,1044.0C1995.9,1029.3 1996.5,1015.4 1996.9,1000.0C1997.3,982.9 1997.4,960.9 1997.8,946.0C1998.1,935.5 1998.5,929.3 1998.7,919.0C1999.0,905.3 1998.5,871.0 1999.1,871.0C1999.5,871.0 2000.3,886.8 2001.0,895.0C2001.8,903.7 2002.8,922.0 2003.5,922.0C2004.3,922.0 2004.8,894.9 2005.3,884.0C2005.7,875.7 2005.8,869.3 2006.2,862.0C2006.6,854.7 2007.1,849.0 2007.5,840.0C2008.1,826.0 2008.4,803.1 2008.8,786.0C2009.1,770.6 2009.1,754.9 2009.7,742.0C2010.1,731.9 2010.9,723.5 2011.5,715.0C2012.1,707.3 2012.6,700.0 2013.2,693.0C2013.8,686.7 2014.6,681.4 2015.0,675.0C2015.5,667.9 2013.7,654.4 2015.9,652.3C2016.8,651.5 2018.6,653.1 2019.4,652.3C2021.3,650.5 2020.0,641.9 2020.3,634.7C2020.8,623.3 2021.1,604.5 2021.6,590.6C2022.0,578.2 2022.3,565.7 2022.9,555.3C2023.4,547.1 2023.5,539.2 2024.7,533.2C2025.6,529.0 2027.2,522.6 2028.2,522.6C2028.9,522.6 2029.4,526.1 2030.0,528.8C2031.1,533.9 2032.4,550.9 2033.1,550.9C2033.8,550.9 2034.1,537.1 2034.4,528.8C2034.8,518.2 2035.0,503.5 2035.3,492.3C2035.6,482.8 2035.8,473.8 2036.2,465.9C2036.5,459.4 2036.8,453.7 2037.5,448.2C2038.1,443.5 2038.3,438.1 2039.7,435.0C2040.6,433.0 2042.2,432.4 2043.2,430.6C2044.4,428.3 2045.3,424.5 2045.9,421.8C2046.4,419.6 2045.8,417.4 2046.7,415.6C2047.6,413.8 2050.2,413.4 2051.1,411.2C2052.6,407.7 2051.2,400.3 2051.6,395.3C2052.0,390.7 2052.6,386.5 2053.4,382.1C2054.2,377.7 2054.5,370.7 2056.4,368.8C2057.4,367.8 2059.0,367.4 2060.0,367.9C2061.6,368.8 2061.9,377.4 2063.1,377.6C2064.0,377.7 2065.4,375.2 2066.1,373.2C2067.2,370.1 2066.4,364.1 2067.0,360.0C2067.6,356.2 2068.7,352.9 2069.5,349.3"/>
<rect x="159" y="29" width="1912" height="1543" fill="none" stroke="#000" stroke-width="6"/>
<path d="M1832.0,1572V1602 M1533.0,1572V1602 M1234.0,1572V1602 M936.0,1572V1602 M637.0,1572V1602 M338.0,1572V1602 M1981.0,1572V1586 M1682.0,1572V1586 M1384.0,1572V1586 M1085.0,1572V1586 M786.0,1572V1586 M488.0,1572V1586 M189.0,1572V1586" stroke="#000" stroke-width="6" fill="none"/>
<text transform="translate(1765.46,1677.33) scale(0.9738,1)" font-family='"Liberation Serif", serif' font-size="66.67">1000</text>
<text transform="translate(1466.46,1677.33) scale(0.9738,1)" font-family='"Liberation Serif", serif' font-size="66.67">1500</text>
<text transform="translate(1168.92,1677.33) scale(0.9738,1)" font-family='"Liberation Serif", serif' font-size="66.67">2000</text>
<text transform="translate(870.92,1677.33) scale(0.9738,1)" font-family='"Liberation Serif", serif' font-size="66.67">2500</text>
<text transform="translate(571.75,1677.33) scale(0.9738,1)" font-family='"Liberation Serif", serif' font-size="66.67">3000</text>
<text transform="translate(272.75,1677.33) scale(0.9738,1)" font-family='"Liberation Serif", serif' font-size="66.67">3500</text>
<rect x="164.5" y="36.5" width="423" height="188.5" fill="#fff" stroke="#000" stroke-width="3"/>
<line x1="175" y1="87" x2="336" y2="87" stroke="#4b4b4b" stroke-width="2"/>
<line x1="174" y1="175" x2="337" y2="175" stroke="#ff3d3d" stroke-width="2"/>
<rect x="254" y="85" width="3" height="3" fill="#4b4b4b"/>
<rect x="253.5" y="173" width="4" height="4" fill="#ff3d3d"/>
<text transform="translate(377.09,113.39) scale(0.9961,1)" font-family='"Liberation Serif", serif' font-weight="normal" font-size="80.59">450</text>
<text transform="translate(375.02,202.29) scale(1.0118,1)" font-family='"Liberation Serif", serif' font-weight="normal" font-size="80.74">600</text>
<text transform="translate(502.46,116.86) scale(1.0102,1)" font-family='"Liberation Serif", "IPAGothic", sans-serif' font-weight="normal" font-size="72.12">℃</text>
<text transform="translate(502.46,205.80) scale(0.9946,1)" font-family='"Liberation Serif", "IPAGothic", sans-serif' font-weight="normal" font-size="73.25">℃</text>
<text transform="translate(87.30,1202.34) rotate(-90) scale(0.9956,1)" font-family='"Liberation Serif", serif' font-weight="bold" font-size="103.00">Transmittance(%)</text>
<text transform="translate(669.26,1821.00) scale(0.9953,1)" font-family='"Liberation Serif", serif' font-weight="bold" font-size="103.00">Wavenumber(CM</text>
<text transform="translate(1465.40,1778.80) scale(0.9874,1)" font-family='"Liberation Serif", serif' font-weight="bold" font-size="69.55">-1</text>
<text transform="translate(1521.32,1821.52) scale(1.0983,1)" font-family='"Liberation Serif", serif' font-weight="bold" font-size="99.45">)</text>
<text transform="translate(592.01,1390.56) rotate(-90) scale(0.9801,1)" font-family='"Liberation Serif", serif' font-weight="normal" font-size="68.59">3065</text>
<text transform="translate(670.75,1382.41) rotate(-90) scale(0.9636,1)" font-family='"Liberation Serif", serif' font-weight="normal" font-size="64.89">2982</text>
<text transform="translate(750.90,1380.14) rotate(-90) scale(0.9735,1)" font-family='"Liberation Serif", serif' font-weight="normal" font-size="60.30">2827</text>
<text transform="translate(846.18,1382.70) rotate(-90) scale(0.9670,1)" font-family='"Liberation Serif", serif' font-weight="normal" font-size="61.94">2665</text>
<text transform="translate(930.10,1380.14) rotate(-90) scale(0.9743,1)" font-family='"Liberation Serif", serif' font-weight="normal" font-size="60.30">2548</text>
<text transform="translate(1373.81,1027.04) rotate(-90) scale(0.9516,1)" font-family='"Liberation Serif", serif' font-weight="normal" font-size="58.81">1792</text>
<text transform="translate(1439.75,1551.53) rotate(-90) scale(0.9494,1)" font-family='"Liberation Serif", serif' font-weight="normal" font-size="55.41">1686</text>
<text transform="translate(1485.10,1213.32) rotate(-90) scale(0.9665,1)" font-family='"Liberation Serif", serif' font-weight="normal" font-size="40.44">1609</text>
<text transform="translate(1520.71,1269.47) rotate(-90) scale(0.9851,1)" font-family='"Liberation Serif", serif' font-weight="normal" font-size="39.10">1574</text>
<text transform="translate(1560.09,1249.19) rotate(-90) scale(1.0330,1)" font-family='"Liberation Serif", serif' font-weight="normal" font-size="40.74">1509</text>
<text transform="translate(1595.30,1439.11) rotate(-90) scale(0.9193,1)" font-family='"Liberation Serif", serif' font-weight="normal" font-size="52.12">1424</text>
<text transform="translate(1677.55,1519.53) rotate(-90) scale(0.9360,1)" font-family='"Liberation Serif", serif' font-weight="normal" font-size="54.96">1285</text>
<text transform="translate(1749.40,1235.74) rotate(-90) scale(0.9456,1)" font-family='"Liberation Serif", serif' font-weight="normal" font-size="49.85">1135</text>
<text transform="translate(1795.60,1232.38) rotate(-90) scale(0.9631,1)" font-family='"Liberation Serif", serif' font-weight="normal" font-size="45.91">1112</text>
<text transform="translate(1835.26,1162.86) rotate(-90) scale(0.9759,1)" font-family='"Liberation Serif", serif' font-weight="normal" font-size="44.00">1019</text>
<text transform="translate(1885.17,1171.35) rotate(-90) scale(0.9853,1)" font-family='"Liberation Serif", serif' font-weight="normal" font-size="52.59">938</text>
<text transform="translate(1929.87,1113.14) rotate(-90) scale(0.9708,1)" font-family='"Liberation Serif", serif' font-weight="normal" font-size="52.59">880</text>
<text transform="translate(1977.83,1127.99) rotate(-90) scale(0.9865,1)" font-family='"Liberation Serif", serif' font-weight="normal" font-size="46.67">781</text>
<text transform="translate(2010.17,1330.56) rotate(-90) scale(0.9745,1)" font-family='"Liberation Serif", serif' font-weight="normal" font-size="52.99">731</text>
<line x1="1469.2" y1="1107.2" x2="1469.2" y2="1130" stroke="#000" stroke-width="2.5"/>
<line x1="1490.9" y1="1129.1" x2="1503" y2="1184.8" stroke="#000" stroke-width="2.5"/>
<line x1="1529.7" y1="1146.8" x2="1540.6" y2="1164.2" stroke="#000" stroke-width="2.5"/>
</svg></body></html>
